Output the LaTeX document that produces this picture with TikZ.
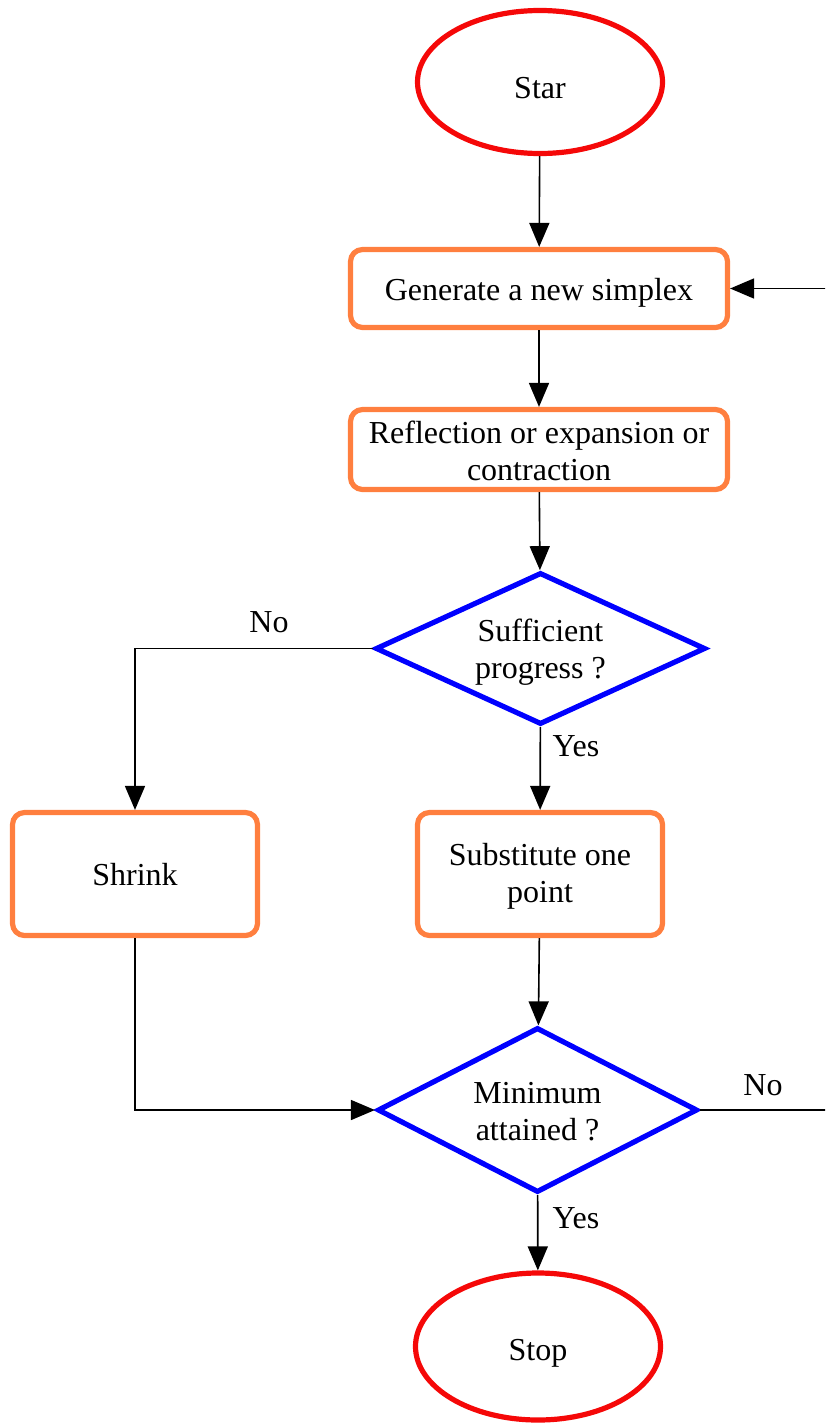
\documentclass[tikz,border=0pt]{standalone}
\usepackage{fontspec}
\setmainfont{Liberation Serif}
\usetikzlibrary{shapes.geometric,arrows.meta}
\definecolor{termred}{RGB}{245,8,8}
\definecolor{procorange}{RGB}{255,127,63}
\definecolor{decblue}{RGB}{0,0,255}
\begin{document}
\begin{tikzpicture}[x=0.5pt,y=-0.5pt,
 font=\fontsize{16}{18.5}\selectfont,
 terminal/.style={ellipse,draw=termred,line width=2.6pt,minimum width=122.5pt,minimum height=71.5pt,inner sep=0pt,text depth=0pt},
 process/.style={rectangle,rounded corners=6pt,draw=procorange,line width=2.6pt,align=center,inner sep=0pt,text depth=0pt},
 decision/.style={diamond,draw=decblue,line width=2.6pt,aspect=2.17,minimum width=165pt,minimum height=76pt,inner sep=0pt,align=center,text depth=0pt},
 conn/.style={line width=0.8pt,-{Triangle[length=12pt,width=10pt]}},
 lbl/.style={inner sep=0pt}]
\useasboundingbox (0,0) rectangle (825,1424);
\clip (0,0) rectangle (825,1424);
\node[terminal,text height=16pt] (start) at (540,82) {Star};
\node[process,minimum width=188.5pt,minimum height=39pt,text height=11.5pt] (gen) at (539,288.5) {Generate a new simplex};
\node[process,minimum width=188.5pt,minimum height=40pt,text height=30.5pt] (refl) at (539,449.5) {Reflection or expansion or\\contraction};
\node[decision,text height=29.5pt] (suff) at (540.5,648.5) {Sufficient\\progress ?};
\node[process,minimum width=122.5pt,minimum height=61.5pt,text height=11pt] (shrink) at (135,874) {Shrink};
\node[process,minimum width=122.5pt,minimum height=61.5pt,text height=28pt] (subst) at (540,874) {Substitute one\\point};
\node[decision,aspect=1.94,minimum width=160pt,minimum height=82.5pt,text height=30pt] (mini) at (537.5,1110) {Minimum\\attained ?};
\node[terminal,minimum height=73.5pt,text height=13.5pt] (stop) at (538,1346.5) {Stop};
\coordinate (rt) at (835,700);
\draw[conn] (start) -- (gen);
\draw[conn] (gen) -- (refl);
\draw[conn] (refl) -- (suff);
\draw[conn] (suff.west) -| (shrink.north);
\draw[conn] (suff) -- (subst);
\draw[conn] (subst) -- (mini);
\draw[conn] (shrink.south) |- (mini.west);
\draw[conn] (mini.east) -| (rt) |- (gen.east);
\draw[conn] (mini) -- (stop);
\node[lbl] (no1) at (269,622) {No};
\node[lbl] (yes1) at (576,746) {Yes};
\node[lbl] (no2) at (763,1085) {No};
\node[lbl] (yes2) at (576,1218) {Yes};
\end{tikzpicture}
\end{document}
